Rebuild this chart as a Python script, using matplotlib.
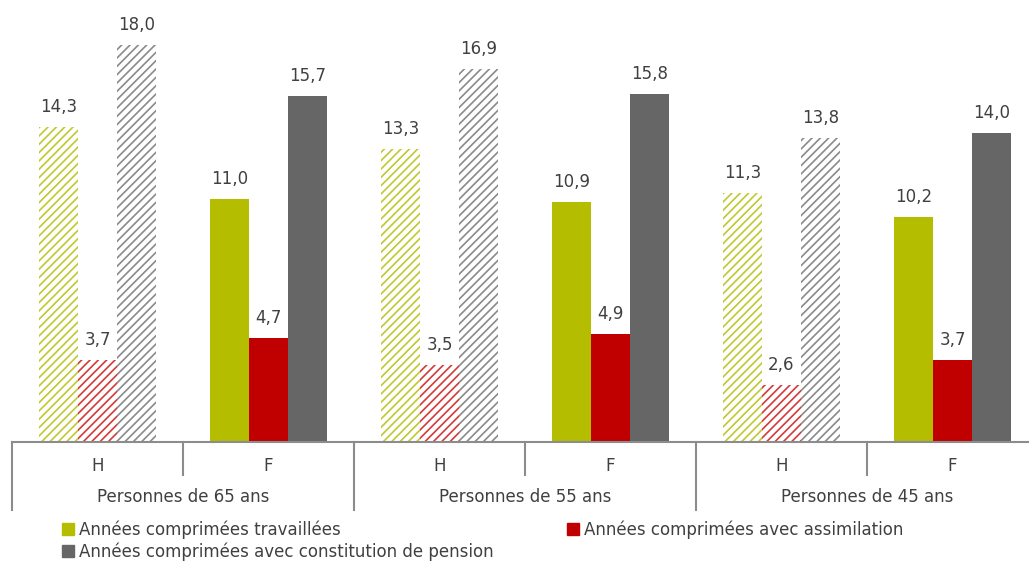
import matplotlib
matplotlib.use("Agg")
import matplotlib.pyplot as plt
from matplotlib.patches import Patch
import numpy as np

# data
sexes = ["H", "F", "H", "F", "H", "F"]
groupes = ["Personnes de 65 ans", "Personnes de 55 ans", "Personnes de 45 ans"]
travaillees = [14.3, 11.0, 13.3, 10.9, 11.3, 10.2]
assimilation = [3.7, 4.7, 3.5, 4.9, 2.6, 3.7]
constitution = [18.0, 15.7, 16.9, 15.8, 13.8, 14.0]
noms = ["Années comprimées travaillées",
        "Années comprimées avec assimilation",
        "Années comprimées avec constitution de pension"]
couleurs = ["#b5bd00", "#c00000", "#666666"]
hachures = ["#c2c830", "#d43a3a", "#8a8a8a"]  # stripes look a bit lighter

plt.rcParams["hatch.linewidth"] = 1.2
txt = "#404040"

fig = plt.figure(figsize=(10.29, 5.65), dpi=100)
# axes: left 12px, right 1029px, bottom y=442, top y=1
ax = fig.add_axes([12 / 1029, (565 - 442) / 565, 1017 / 1029, 441 / 565])

x = np.arange(len(sexes))
bw = 0.228
series = [travaillees, assimilation, constitution]
for k, vals in enumerate(series):
    for i, v in enumerate(vals):
        xp = x[i] + (k - 1) * bw
        if sexes[i] == "H":
            ax.bar(xp, v, bw, facecolor="white", edgecolor=hachures[k],
                   linewidth=0, hatch="////")
        else:
            ax.bar(xp, v, bw, color=couleurs[k], linewidth=0)
        ax.text(xp, v + 0.5, f"{v:.1f}".replace(".", ","), ha="center",
                va="bottom", fontsize=12, color=txt)

ax.set_xlim(-0.5, -0.5 + 1017 / 171)
ax.set_ylim(0, 20)
for s in ["top", "right", "left"]:
    ax.spines[s].set_visible(False)
ax.spines["bottom"].set_color("#8c8c8c")
ax.spines["bottom"].set_linewidth(1.5)
ax.set_xticks([])
ax.set_yticks([])

tr = ax.get_xaxis_transform()
# small dividers between H and F
for xd in [0.5, 2.5, 4.5]:
    ax.plot([xd, xd], [0, -0.075], transform=tr, color="#8c8c8c", lw=1.5, clip_on=False)
# big dividers between groups
for xd in [-0.5, 1.5, 3.5]:
    ax.plot([xd, xd], [0, -0.154], transform=tr, color="#8c8c8c", lw=1.5, clip_on=False)

for i, s in enumerate(sexes):
    ax.text(x[i], -0.054, s, transform=tr, ha="center", va="center", fontsize=12, color=txt)
for j, g in enumerate(groupes):
    ax.text(2 * j + 0.5, -0.125, g, transform=tr, ha="center", va="center", fontsize=12, color=txt)

handles = [Patch(color=couleurs[0]), Patch(color=couleurs[2]), Patch(color=couleurs[1])]
labels = [noms[0], noms[2], noms[1]]
fig.legend(handles, labels, ncol=2, loc="upper left", bbox_to_anchor=(54 / 1029, 1 - 512 / 565),
           frameon=False, fontsize=12, labelcolor=txt, handlelength=0.7, handleheight=0.7,
           handletextpad=0.3, columnspacing=4.4, labelspacing=0.2, borderpad=0)

fig.savefig("out.png", dpi=100)
